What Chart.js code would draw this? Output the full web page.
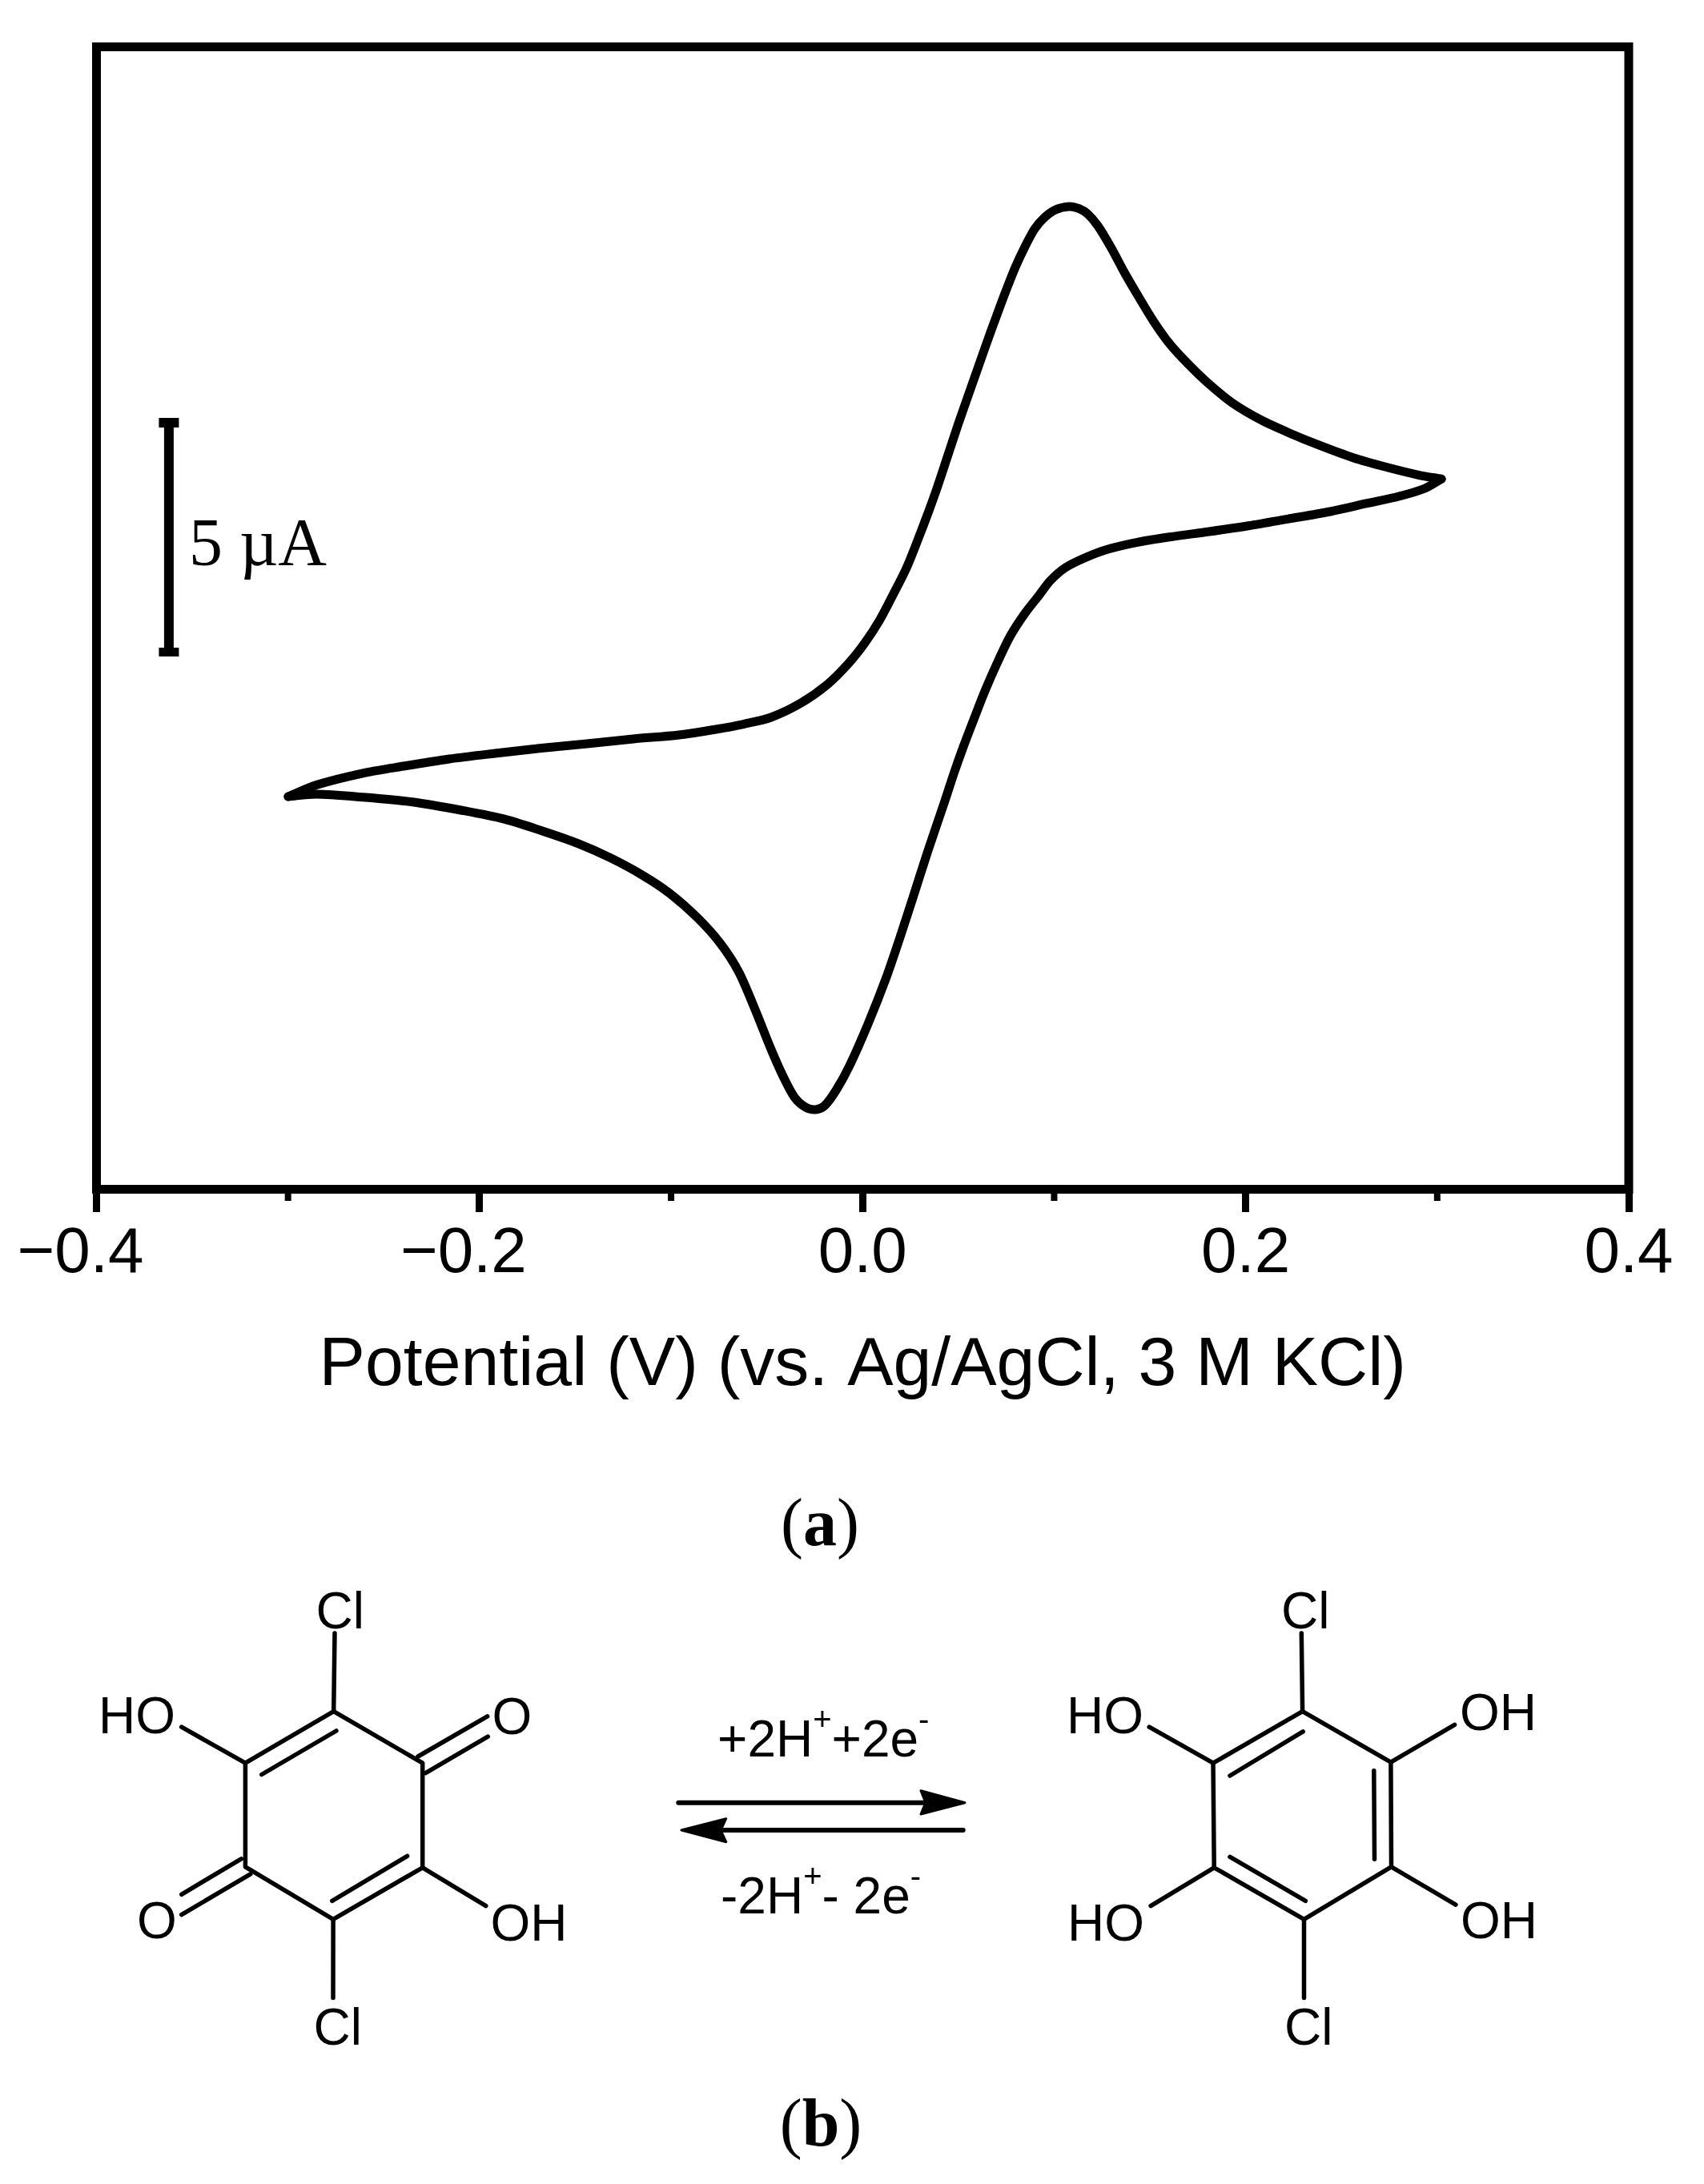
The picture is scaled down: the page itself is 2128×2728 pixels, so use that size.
<!DOCTYPE html>
<html>
<head>
<meta charset="utf-8">
<title>Cyclic voltammogram</title>
<script src="https://cdn.jsdelivr.net/npm/chart.js@4"></script>
<style>
  html, body { margin: 0; padding: 0; background: #fff; }
  #page { position: relative; width: 2128px; height: 2728px; overflow: hidden; }
  #cvChart { position: absolute; left: 0; top: 0; }
  #scheme { position: absolute; left: 0; top: 0; }
  .bond { fill: none; stroke: #000; stroke-width: 5.5; stroke-linecap: round; stroke-linejoin: round; }
  .label { font-family: "Liberation Sans", Arial, sans-serif; font-size: 64px; fill: #000; }
  .caption { font-family: "Liberation Serif", "Times New Roman", serif; font-size: 84px; fill: #000; text-anchor: middle; }
</style>
</head>
<body>
<div id="page">
  <canvas id="cvChart" width="2128" height="1800"></canvas>
  <svg id="scheme" width="2128" height="2728" viewBox="0 0 2128 2728" xmlns="http://www.w3.org/2000/svg">
    <text class="caption" x="1024" y="1930">(<tspan font-weight="bold">a</tspan>)</text>
    <text class="caption" x="1025" y="2680">(<tspan font-weight="bold">b</tspan>)</text>

    <!-- quinone, left -->
    <path class="bond" d="M416.7 2137.6 L527.7 2202.2 L527.7 2332.8 L416.1 2397.4 L306.4 2331.8 L306.4 2202.2 Z"/>
    <path class="bond" d="M418 2040 L416.7 2137.6 M226.7 2157.2 L306.4 2202.2 M416.1 2397.4 L416 2495.5 M527.7 2332.8 L606.8 2380.6"/>
    <path class="bond" d="M326.8 2216.5 L419.9 2162 M508.6 2318.4 L414.8 2374.4"/>
    <path class="bond" d="M522 2194 L608.7 2143.8 M531.5 2214.6 L609.3 2169.1 M301.3 2321.8 L226.7 2366.3 M312.8 2340.9 L226.7 2391.6"/>
    <text class="label" x="394.5" y="2033.7">Cl</text>
    <text class="label" x="123" y="2165.3">HO</text>
    <text class="label" x="614.5" y="2166">O</text>
    <text class="label" x="171" y="2421">O</text>
    <text class="label" x="612.5" y="2423.7">OH</text>
    <text class="label" x="391.5" y="2553.8">Cl</text>

    <!-- arrows and reaction text -->
    <path class="bond" style="stroke-width:6" d="M847.3 2251.7 L1160 2251.7 M1202.7 2286 L895 2286"/>
    <polygon points="1205,2251.7 1150,2236.7 1156,2251.7 1150,2266" fill="#000" stroke="#000" stroke-width="3" stroke-linejoin="round"/>
    <polygon points="851,2286 906.7,2271.7 900,2286 906.7,2300.7" fill="#000" stroke="#000" stroke-width="3" stroke-linejoin="round"/>
    <text class="label" x="896" y="2194">+2H<tspan font-size="40" dy="-33">+</tspan><tspan dy="33">+2e</tspan><tspan font-size="40" dy="-33">-</tspan></text>
    <text class="label" x="900" y="2390">-2H<tspan font-size="40" dy="-33">+</tspan><tspan dy="33">- 2e</tspan><tspan font-size="40" dy="-33">-</tspan></text>

    <!-- hydroquinone, right -->
    <path class="bond" d="M1626.6 2137.6 L1736.9 2201.2 L1737.5 2331.8 L1628.5 2397.4 L1516.2 2332.8 L1515 2202.2 Z"/>
    <path class="bond" d="M1625.3 2040 L1626.6 2137.6 M1628.5 2397.4 L1628.5 2495.5 M1515 2202.2 L1435.2 2157.2 M1736.9 2201.2 L1816.6 2154.3 M1516.2 2332.8 L1437.1 2380.6 M1737.5 2331.8 L1817.9 2379.2"/>
    <path class="bond" d="M1536 2218 L1627.2 2162.9 M1715.8 2211.7 L1716.5 2322.2 M1536 2319.4 L1630.4 2374.4"/>
    <text class="label" x="1600" y="2033.7">Cl</text>
    <text class="label" x="1332" y="2165.3">HO</text>
    <text class="label" x="1823" y="2161">OH</text>
    <text class="label" x="1333" y="2423.7">HO</text>
    <text class="label" x="1824" y="2421">OH</text>
    <text class="label" x="1604" y="2553.8">Cl</text>
  </svg>
</div>

<script>
// potential in V, current in uA (zero of the current axis is arbitrary)
const forwardV = [-0.2999, -0.2852, -0.2614, -0.2397, -0.2158, -0.1918, -0.1678, -0.1439, -0.1197, -0.0958,
    -0.0766, -0.0622, -0.0478, -0.0323, -0.0184, -0.0072, 0.0011, 0.0088, 0.0158, 0.0228,
    0.0290, 0.0343, 0.0388, 0.0438, 0.0496, 0.0547, 0.0597, 0.0647, 0.0697, 0.0747,
    0.0797, 0.0848, 0.0898, 0.0948, 0.1007, 0.1078, 0.1128, 0.1174, 0.1228, 0.1299,
    0.1366, 0.1435, 0.1520, 0.1605, 0.1708, 0.1810, 0.1930, 0.2083, 0.2236, 0.2390,
    0.2561, 0.2731, 0.2902, 0.3022];
const forwardI = [-3.775, -3.532, -3.289, -3.138, -2.987, -2.869, -2.760, -2.668, -2.567, -2.483,
    -2.366, -2.257, -2.114, -1.817, -1.426, -0.978, -0.559, -0.084, 0.448, 1.007,
    1.623, 2.181, 2.685, 3.289, 3.993, 4.581, 5.151, 5.722, 6.275, 6.812,
    7.316, 7.752, 8.121, 8.356, 8.524, 8.591, 8.549, 8.440, 8.188, 7.718,
    7.215, 6.740, 6.180, 5.705, 5.257, 4.866, 4.475, 4.111, 3.831, 3.579,
    3.327, 3.133, 2.965, 2.881];

const reverseV = [0.3022, 0.2936, 0.2800, 0.2629, 0.2441, 0.2219, 0.2014, 0.1809, 0.1604, 0.1435,
    0.1281, 0.1161, 0.1059, 0.0981, 0.0923, 0.0848, 0.0772, 0.0701, 0.0639, 0.0583,
    0.0527, 0.0478, 0.0430, 0.0338, 0.0267, 0.0195, 0.0122, 0.0028, -0.0068, -0.0139,
    -0.0198, -0.0245, -0.0298, -0.0356, -0.0418, -0.0478, -0.0562, -0.0646, -0.0742, -0.0862,
    -0.1006, -0.1151, -0.1318, -0.1486, -0.1678, -0.1870, -0.2086, -0.2350, -0.2614, -0.2854,
    -0.2999];
const reverseI = [2.881, 2.685, 2.517, 2.366, 2.198, 2.042, 1.901, 1.779, 1.666, 1.555,
    1.409, 1.230, 1.024, 0.755, 0.453, 0.067, -0.403, -0.990, -1.560, -2.131,
    -2.718, -3.272, -3.859, -4.950, -5.839, -6.728, -7.584, -8.541, -9.413, -9.933,
    -10.252, -10.336, -10.286, -10.076, -9.614, -9.072, -8.233, -7.455, -6.856, -6.316,
    -5.806, -5.418, -5.057, -4.759, -4.488, -4.248, -4.069, -3.889, -3.787, -3.725,
    -3.775];

// 5 uA scale bar
const scaleBarV = [-0.3622, -0.3622];
const scaleBarI = [4.161, -0.839];
const scaleBarLabel = '5 \u00B5A';

const tickValues = [-0.4, -0.2, 0, 0.2, 0.4];
const tickLabels = ['\u22120.4', '\u22120.2', '0.0', '0.2', '0.4'];
const minorTickValues = [-0.3, -0.1, 0.1, 0.3];
const xTitle = 'Potential (V) (vs. Ag/AgCl, 3 M KCl)';

const toPoints = (xs, ys) => xs.map((x, i) => ({ x, y: ys[i] }));

// frame, minor ticks, scale bar caps and the 5 uA label
const extras = {
    id: 'extras',
    afterDraw(chart) {
        const { ctx, chartArea: a, scales: { x, y } } = chart;
        ctx.save();
        ctx.fillStyle = '#000';
        ctx.strokeStyle = '#000';
        ctx.lineWidth = 11;
        ctx.strokeRect(a.left, a.top, a.right - a.left, a.bottom - a.top);

        minorTickValues.forEach(v => {
            ctx.fillRect(x.getPixelForValue(v) - 4, a.bottom, 8, 14.5);
        });

        const cx = x.getPixelForValue(scaleBarV[0]);
        const top = y.getPixelForValue(scaleBarI[0]);
        const bottom = y.getPixelForValue(scaleBarI[1]);
        ctx.fillRect(cx - 12.5, top, 25, 12);
        ctx.fillRect(cx - 12.5, bottom - 11, 25, 11);

        ctx.font = '84px "Liberation Serif", "Times New Roman", serif';
        ctx.textAlign = 'left';
        ctx.textBaseline = 'alphabetic';
        ctx.fillText(scaleBarLabel, cx + 25, y.getPixelForValue(1.07));
        ctx.restore();
    }
};

new Chart(document.getElementById('cvChart'), {
    type: 'scatter',
    data: {
        datasets: [
            { label: 'Forward scan', data: toPoints(forwardV, forwardI), showLine: true, tension: 0.3, borderColor: '#000', borderWidth: 11, borderCapStyle: 'round', borderJoinStyle: 'round', pointRadius: 0 },
            { label: 'Reverse scan', data: toPoints(reverseV, reverseI), showLine: true, tension: 0.3, borderColor: '#000', borderWidth: 11, borderCapStyle: 'round', borderJoinStyle: 'round', pointRadius: 0 },
            { label: 'Scale bar', data: toPoints(scaleBarV, scaleBarI), showLine: true, tension: 0, borderColor: '#000', borderWidth: 12, borderCapStyle: 'butt', pointRadius: 0 }
        ]
    },
    options: {
        responsive: false,
        animation: false,
        devicePixelRatio: 1,
        layout: { padding: { left: 120.5, top: 58.5, right: 94, bottom: 0 } },
        plugins: { legend: { display: false }, tooltip: { enabled: false } },
        scales: {
            x: {
                type: 'linear',
                min: -0.4,
                max: 0.4,
                afterBuildTicks: s => { s.ticks = tickValues.map(value => ({ value })); },
                afterFit: s => { s.height = 314.5; },
                border: { display: false },
                grid: { drawOnChartArea: false, drawTicks: true, tickLength: 28.5, tickWidth: 9, tickColor: '#000' },
                ticks: {
                    color: '#000',
                    padding: 5,
                    maxRotation: 0,
                    autoSkip: false,
                    font: { family: '"Liberation Sans", Arial, sans-serif', size: 80 },
                    // digits sit centred on the tick, the minus hangs to the left
                    callback: (v, i) => i < 2 ? tickLabels[i] + '\u2002' : tickLabels[i]
                },
                title: {
                    display: true,
                    text: xTitle,
                    color: '#000',
                    font: { family: '"Liberation Sans", Arial, sans-serif', size: 86 },
                    padding: { top: 0, bottom: 42 }
                }
            },
            y: { type: 'linear', display: false, min: -12.005, max: 11.938 }
        }
    },
    plugins: [extras]
});
</script>
</body>
</html>
